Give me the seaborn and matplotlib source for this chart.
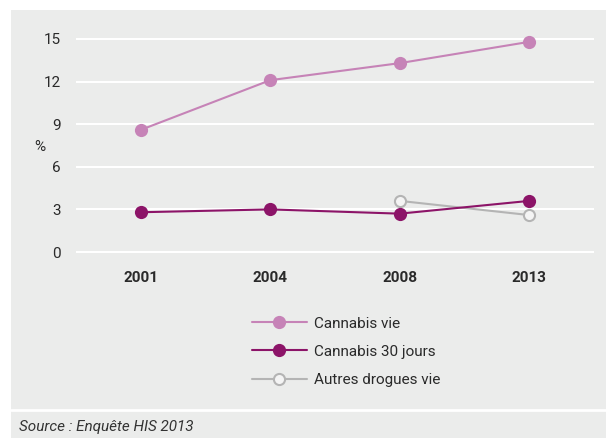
import matplotlib
matplotlib.use("Agg")
import matplotlib.pyplot as plt
from matplotlib.patches import Rectangle
from matplotlib.lines import Line2D
import seaborn as sns
import pandas as pd

years = ["2001", "2004", "2008", "2013"]
cannabis_vie = [8.6, 12.1, 13.3, 14.8]
cannabis_30j = [2.8, 3.0, 2.7, 3.6]
autres_years = ["2008", "2013"]
autres_vie = [3.6, 2.6]
y_ticks = [0, 3, 6, 9, 12, 15]
series_names = ["Cannabis vie", "Cannabis 30 jours", "Autres drogues vie"]
source_text = "Source : Enquête HIS 2013"

sns.set_theme(style="white")
plt.rcParams["font.family"] = ["Roboto", "DejaVu Sans"]

W, H = 606, 438
fig = plt.figure(figsize=(W / 100, H / 100), dpi=100)
fig.patch.set_facecolor("white")
bg = "#ebeceb"
fig.patches.append(Rectangle((11 / W, 0), 1 - 11 / W, 1 - 10 / H, transform=fig.transFigure,
                             facecolor=bg, edgecolor="none", zorder=-2))
fig.lines.append(Line2D([11 / W, 1], [1 - 410 / H, 1 - 410 / H], transform=fig.transFigure,
                        color="white", lw=2, zorder=-1))

# axes: y 0 at px 252, 15 at px 39
ppu = (252 - 39) / 15
top_px, bot_px = 25, 265
ymin = -(bot_px - 252) / ppu
ymax = 15 + (39 - top_px) / ppu
ax = fig.add_axes([76 / W, 1 - bot_px / H, (594 - 76) / W, (bot_px - top_px) / H])
ax.set_facecolor("none")

c_vie = "#c683b7"
c_30 = "#8c1468"
c_aut = "#b4b4b4"
txt = "#2a2a2a"
fs = 11

df1 = pd.DataFrame({"year": years, "value": cannabis_vie})
df2 = pd.DataFrame({"year": years, "value": cannabis_30j})
df3 = pd.DataFrame({"year": autres_years, "value": autres_vie})

sns.lineplot(data=df1, x="year", y="value", ax=ax, color=c_vie, lw=1.5, marker="o",
             markersize=9.5, markeredgewidth=0, markerfacecolor=c_vie, clip_on=False, zorder=3)
sns.lineplot(data=df2, x="year", y="value", ax=ax, color=c_30, lw=1.5, marker="o",
             markersize=9.5, markeredgewidth=0, markerfacecolor=c_30, clip_on=False, zorder=4)
sns.lineplot(data=df3, x="year", y="value", ax=ax, color=c_aut, lw=1.5, marker="o",
             markersize=8, markeredgewidth=1.5, markeredgecolor=c_aut,
             markerfacecolor="#f4f4f4", clip_on=False, zorder=3)

ax.set_xlim(-0.5, 3.5)
ax.set_ylim(ymin, ymax)
ax.set_yticks(y_ticks)
ax.set_yticklabels([str(t) for t in y_ticks])
for t in y_ticks:
    ax.axhline(t, color="white", lw=1.5, zorder=1)
for s in ax.spines.values():
    s.set_visible(False)
ax.tick_params(axis="y", length=0, pad=11, labelsize=fs, labelcolor=txt)
ax.tick_params(axis="x", length=0, pad=4, labelsize=fs, labelcolor=txt)
for lab in ax.get_xticklabels():
    lab.set_fontweight("bold")
ax.set_xlabel("")
ax.set_ylabel("")
fig.text(40 / W, 1 - 147 / H, "%", ha="center", va="center", fontsize=fs, color=txt)

handles = [
    Line2D([], [], color=c_vie, lw=1.5, marker="o", markersize=9.5, markeredgewidth=0),
    Line2D([], [], color=c_30, lw=1.5, marker="o", markersize=9.5, markeredgewidth=0),
    Line2D([], [], color=c_aut, lw=1.5, marker="o", markersize=8, markeredgewidth=1.5,
           markerfacecolor="#f4f4f4"),
]
leg = fig.legend(handles, series_names, loc="upper left", bbox_to_anchor=(238 / W, 1 - 303 / H),
                 frameon=False, fontsize=fs, handlelength=3.6, handletextpad=0.5,
                 labelspacing=0.92, labelcolor=txt)

fig.text(19 / W, 1 - 427 / H, source_text, ha="left", va="center", fontsize=fs,
         style="italic", color="#333333")

fig.savefig("out.png", dpi=100, facecolor="white")
